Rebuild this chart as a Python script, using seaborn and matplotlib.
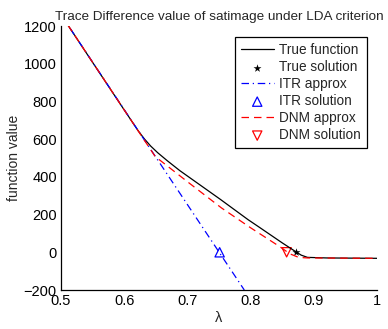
import matplotlib
matplotlib.use("Agg")
import matplotlib.pyplot as plt
import numpy as np
import pandas as pd
import seaborn as sns

# values
true_lam = [0.50, 0.55, 0.60, 0.622, 0.632, 0.642, 0.653, 0.668, 0.688, 0.752, 0.796, 0.815, 0.85, 0.872, 0.88, 0.89, 0.92, 1.0]
true_val = [1260, 1007, 755, 645, 601, 563, 528, 486, 433, 281, 173, 130, 50, 2, -15, -27, -30, -32]

itr_lam = [0.50, 0.79]
itr_val = [1260, -200]

dnm_lam = [0.50, 0.60, 0.649, 0.662, 0.704, 0.754, 0.80, 0.847, 0.862, 0.876, 0.89, 1.0]
dnm_val = [1260, 755, 508, 474, 364, 235, 130, 28, -8, -27, -30, -32]

true_sol = (0.872, 0)
itr_sol = (0.751, 0)
dnm_sol = (0.857, 0)

xticks = [0.5, 0.6, 0.7, 0.8, 0.9, 1.0]
xticklabels = ["0.5", "0.6", "0.7", "0.8", "0.9", "1"]
yticks = [-200, 0, 200, 400, 600, 800, 1000, 1200]

sns.set_style("white")
plt.rcParams['font.family'] = ['Liberation Sans', 'DejaVu Sans']
plt.rcParams['xtick.direction'] = 'in'
plt.rcParams['ytick.direction'] = 'in'

fig = plt.figure(figsize=(3.88, 3.29), dpi=100)
ax = fig.add_axes([61 / 388, 1 - 290 / 329, 316 / 388, 264 / 329])

true_df = pd.DataFrame({"lam": true_lam, "val": true_val})
itr_df = pd.DataFrame({"lam": itr_lam, "val": itr_val})
dnm_df = pd.DataFrame({"lam": dnm_lam, "val": dnm_val})

sns.lineplot(x="lam", y="val", data=true_df, sort=False, estimator=None,
             color="k", lw=0.9, label="True function", ax=ax)
sns.scatterplot(x=[true_sol[0]], y=[true_sol[1]], marker="*", color="k",
                s=36, linewidth=0, label="True solution", ax=ax)
sns.lineplot(x="lam", y="val", data=itr_df, sort=False, estimator=None,
             color="b", lw=0.9, linestyle=(0, (6, 3, 1, 3)), label="ITR approx", ax=ax)
sns.scatterplot(x=[itr_sol[0]], y=[itr_sol[1]], marker="^", facecolor="none",
                edgecolor="b", s=45, linewidth=0.9, label="ITR solution", ax=ax)
sns.lineplot(x="lam", y="val", data=dnm_df, sort=False, estimator=None,
             color="r", lw=0.9, linestyle=(0, (6, 4)), label="DNM approx", ax=ax)
sns.scatterplot(x=[dnm_sol[0]], y=[dnm_sol[1]], marker="v", facecolor="none",
                edgecolor="r", s=45, linewidth=0.9, label="DNM solution", ax=ax)

ax.set_xlim(0.5, 1.0)
ax.set_ylim(-200, 1200)
ax.set_xticks(xticks)
ax.set_xticklabels(xticklabels)
ax.set_yticks(yticks)
ax.tick_params(labelsize=10.5, length=3, width=0.7, colors="k", pad=3)
ax.spines['top'].set_visible(False)
ax.spines['right'].set_visible(False)
ax.spines['left'].set_color('k')
ax.spines['bottom'].set_color('k')
ax.spines['left'].set_linewidth(0.9)
ax.spines['bottom'].set_linewidth(0.9)

ax.set_title("Trace Difference value of satimage under LDA criterion", fontsize=9.7, pad=4)
ax.set_xlabel("λ", fontsize=10.5, labelpad=2)
ax.set_ylabel("function value", fontsize=10, labelpad=2)

leg = ax.legend(loc="upper right", bbox_to_anchor=(0.968, 0.958), fontsize=9.8,
                fancybox=False, framealpha=1, edgecolor="k", borderpad=0.45,
                labelspacing=0.22, handlelength=2.4, handletextpad=0.4,
                borderaxespad=0)
leg.get_frame().set_linewidth(0.9)

fig.savefig("out.png", dpi=100)
